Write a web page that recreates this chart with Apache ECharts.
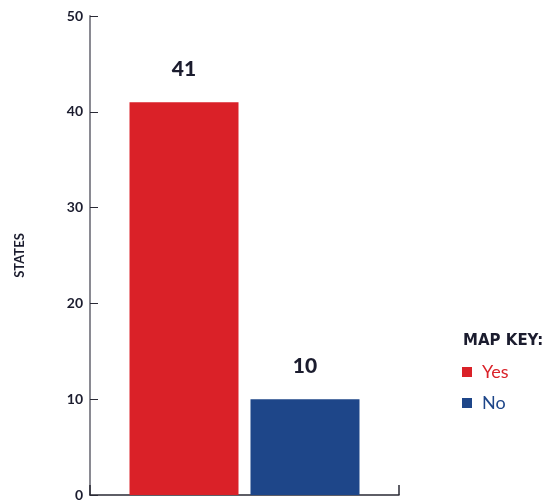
<!DOCTYPE html>
<html>
<head>
<meta charset="utf-8">
<script src="https://cdn.jsdelivr.net/npm/echarts@6/dist/echarts.min.js"></script>
<style>
  html, body { margin: 0; padding: 0; background: #ffffff; }
  #chart { width: 557px; height: 504px; }
</style>
</head>
<body>
<div id="chart"></div>
<script>
// Answers and number of states for each
const answers = ['Yes', 'No'];
const stateCounts = [41, 10];
const answerColors = ['#DA2128', '#1E4689'];
const yTicks = [0, 10, 20, 30, 40, 50];

const chart = echarts.init(document.getElementById('chart'));

const series = answers.map((name, i) => ({
  name: name,
  type: 'bar',
  data: [stateCounts[i]],
  barWidth: 109,
  barGap: '11%',
  itemStyle: { color: answerColors[i] },
  label: {
    show: true,
    position: 'top',
    distance: 22,
    fontFamily: 'Lato',
    fontWeight: 900,
    fontSize: 21,
    color: '#1b1c2e'
  }
}));

chart.setOption({
  animation: false,
  grid: { left: 90, top: 16, right: 158, bottom: 9, containLabel: false },
  title: {
    text: 'MAP KEY:',
    left: 458,
    top: 329,
    textStyle: {
      fontFamily: 'DejaVu Sans',
      fontWeight: 'bold',
      fontSize: 15,
      color: '#1b1c2e'
    }
  },
  legend: {
    orient: 'vertical',
    left: 457,
    top: 358,
    icon: 'rect',
    itemWidth: 10,
    itemHeight: 10,
    itemGap: 13,
    data: answers.map((name, i) => ({
      name: name,
      textStyle: { color: answerColors[i] }
    })),
    textStyle: { fontFamily: 'Lato', fontSize: 18, padding: [0, 0, 0, 5] }
  },
  xAxis: {
    type: 'category',
    data: [''],
    axisLine: { lineStyle: { color: '#2a2a35', width: 1.5 } },
    axisTick: { show: true, inside: true, length: 10, lineStyle: { color: '#2a2a35', width: 1.5 } },
    axisLabel: { show: false }
  },
  yAxis: {
    type: 'value',
    min: yTicks[0],
    max: yTicks[yTicks.length - 1],
    interval: 10,
    name: 'STATES',
    nameLocation: 'middle',
    nameGap: 64,
    nameRotate: 90,
    nameTextStyle: {
      fontFamily: 'Lato',
      fontWeight: 'bold',
      fontSize: 13,
      color: '#1b1c2e'
    },
    axisLine: { show: true, lineStyle: { color: '#8a8a92', width: 2 } },
    axisTick: { show: true, inside: true, length: 8, lineStyle: { color: '#2a2a35', width: 1 } },
    axisLabel: {
      fontFamily: 'Lato',
      fontWeight: 'bold',
      fontSize: 14,
      color: '#1b1c2e',
      margin: 7
    },
    splitLine: { show: false }
  },
  series: series
});
</script>
</body>
</html>
